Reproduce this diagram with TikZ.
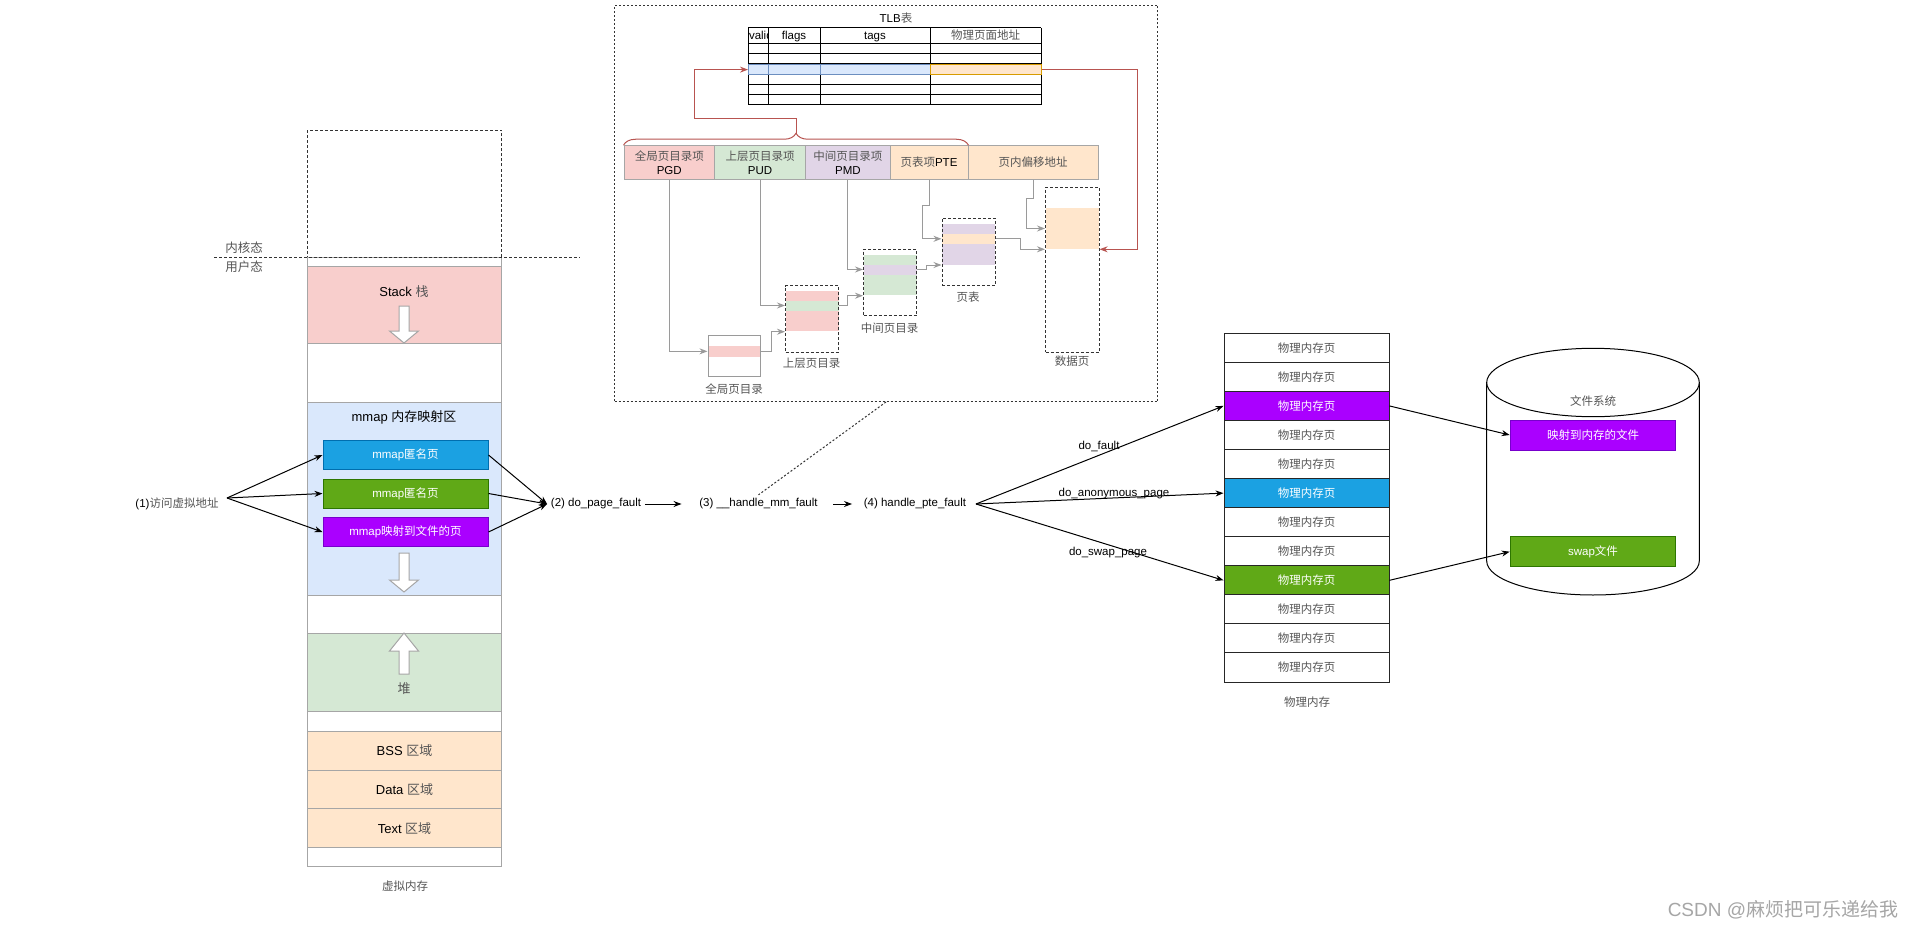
\documentclass[tikz,border=0pt]{standalone}
\usepackage{fontspec}
\usepackage{tikz}
\usetikzlibrary{arrows.meta, decorations.pathreplacing}
\setmainfont{Liberation Sans}
\newfontfamily\cjk{Noto Sans CJK SC}
\newcommand{\zh}[1]{{\cjk #1}}
\newcommand{\zhg}[1]{{\cjk\color{labelgray}#1}}

\definecolor{stackred}{HTML}{F8CECC}
\definecolor{mmapblue}{HTML}{DAE8FC}
\definecolor{heapgreen}{HTML}{D5E8D4}
\definecolor{segorange}{HTML}{FFE6CC}
\definecolor{pmdpurple}{HTML}{E1D5E7}
\definecolor{anonblue}{HTML}{1BA1E2}
\definecolor{anonblueline}{HTML}{006EAF}
\definecolor{anongreen}{HTML}{60A917}
\definecolor{anongreenline}{HTML}{2D7600}
\definecolor{filepurple}{HTML}{AA00FF}
\definecolor{filepurpleline}{HTML}{7700CC}
\definecolor{tlbblueline}{HTML}{6C8EBF}
\definecolor{tlborangeline}{HTML}{D79B00}
\definecolor{hitred}{HTML}{B85450}
\definecolor{segline}{HTML}{A6A6A6}
\definecolor{walkgray}{HTML}{9A9A9A}
\definecolor{labelgray}{HTML}{555555}

\newcommand{\hollowarrow}[4]{
	\draw[segline, fill = white] (#1 - 5, #2) -- (#1 + 5, #2) -- (#1 + 5, #3) -- (#1 + 14.5, #3) -- (#1, #4) -- (#1 - 14.5, #3) -- (#1 - 5, #3) -- cycle;
}

\tikzset{
	colfont/.style = {font = \fontsize{13}{15}\selectfont},
	seg/.style = {draw = segline, colfont, inner sep = 0pt, minimum width = 194pt, anchor = north west},
	mbox/.style = {draw = #1line, fill = #1, text = white, minimum width = 165pt, minimum height = 29pt, inner sep = 0pt},
	pagebox/.style = {draw = black!85, minimum width = 165pt, minimum height = 29.06pt, inner sep = 0pt},
	entry/.style = {draw = segline, minimum height = 33.3pt, inner sep = 0pt, align = center},
	broken/.style = {draw = black!80, dash pattern = on 3pt off 2pt},
	ptab/.style = {broken, inner sep = 0pt, anchor = north west},
	stripe/.style = {inner sep = 0pt, anchor = north west},
	walk/.style = {walkgray, ->},
	redline/.style = {hitred, ->}
}

\begin{document}
\begin{tikzpicture}[x = 1pt, y = -1pt, line width = 1pt, > = {Stealth[length = 8pt, width = 6pt]}, font = \fontsize{11.5}{14}\selectfont]
	\fill[white] (0, 0) rectangle (1915, 931);
	\useasboundingbox (0, 0) rectangle (1915, 931);

	\node[ptab, minimum width = 194pt, minimum height = 127pt] (kernel) at (307, 130) {};
	\node[seg, minimum height = 609pt] (user) at (307, 257) {};
	\node[seg, fill = stackred, minimum height = 77pt] (stack) at (307, 266) {};
	\node[seg, fill = mmapblue, minimum height = 193pt] (mmap) at (307, 402) {};
	\node[seg, fill = heapgreen, minimum height = 78pt] (heap) at (307, 633) {};
	\node[seg, fill = segorange, minimum height = 38.7pt] (bss) at (307, 731) {BSS \zhg{区域}};
	\node[seg, fill = segorange, minimum height = 38.7pt] (datasec) at (307, 769.7) {Data \zhg{区域}};
	\node[seg, fill = segorange, minimum height = 38.7pt] (textsec) at (307, 808.3) {Text \zhg{区域}};
	\draw[broken] (214, 257) -- (580, 257);
	\node[font = \fontsize{12.5}{14}\selectfont, text = labelgray] (kernlabel) at (244, 248) {\zh{内核态}};
	\node[font = \fontsize{12.5}{14}\selectfont, text = labelgray] (userlabel) at (244, 267) {\zh{用户态}};

	\node[colfont] (stacklabel) at (404, 292) {Stack \zhg{栈}};
	\hollowarrow{404}{306}{331}{343}
	\node[colfont] (mmaplabel) at (404, 417) {mmap \zh{内存映射区}};
	\node[mbox = anonblue] (anon1) at (405.5, 455) {mmap\zh{匿名页}};
	\node[mbox = anongreen] (anon2) at (405.5, 493.5) {mmap\zh{匿名页}};
	\node[mbox = filepurple] (filemap) at (405.5, 532) {mmap\zh{映射到文件的页}};
	\hollowarrow{404}{553}{580}{592}
	\hollowarrow{404}{674}{651}{633}
	\node[colfont] (heaplabel) at (404, 689) {\zhg{堆}};
	\node[text = labelgray] (vmlabel) at (405, 886) {\zh{虚拟内存}};

	\node (access) at (177, 504) {(1)\zhg{访问虚拟地址}};
	\coordinate (accfan) at (227, 498);
	\foreach \t in {anon1, anon2, filemap}
	\draw[->] (accfan) -- (\t.west);

	\node (dpf) at (596, 504) {(2) do\_page\_fault};
	\foreach \t in {anon1, anon2, filemap}
	\draw[->] (\t.east) -- (dpf.west);
	\node (hmf) at (758.5, 504) {(3) \_\_handle\_mm\_fault};
	\node (hpf) at (915, 504) {(4) handle\_pte\_fault};
	\draw[->, shorten >= 14pt] (dpf) -- (hmf);
	\draw[->, shorten <= 12pt, shorten >= 8pt] (hmf) -- (hpf);

	\foreach \i/\c/\tc in {1/white/labelgray, 2/white/labelgray, 3/filepurple/white, 4/white/labelgray, 5/white/labelgray, 6/anonblue/white, 7/white/labelgray, 8/white/labelgray, 9/anongreen/white, 10/white/labelgray, 11/white/labelgray, 12/white/labelgray}
	\node[pagebox, fill = \c, text = \tc] (pm\i) at (1306.5, {333.3 + 29.06 * \i - 14.53}) {\zh{物理内存页}};
	\node[text = labelgray] (pmlabel) at (1307, 702) {\zh{物理内存}};

	\coordinate (hpffan) at (976, 504);
	\draw[->] (hpffan) -- (pm3.west);
	\draw[->] (hpffan) -- (pm6.west);
	\draw[->] (hpffan) -- (pm9.west);
	\node (dofault) at (1099, 446) {do\_fault};
	\node (doanon) at (1114, 494) {do\_anonymous\_page};
	\node (doswap) at (1108, 553) {do\_swap\_page};

	\draw[fill = white] (1486.7, 382.5) -- (1486.7, 561) arc[start angle = 180, end angle = 360, x radius = 106.3pt, y radius = 34pt] -- (1699.3, 382.5);
	\draw[fill = white] (1593, 382.5) ellipse [x radius = 106.3pt, y radius = 34.2pt];
	\node[text = labelgray] (fslabel) at (1593, 401) {\zh{文件系统}};
	\node[mbox = filepurple, minimum width = 165.7pt, minimum height = 30pt] (mapfile) at (1593, 435) {\zh{映射到内存的文件}};
	\node[mbox = anongreen, minimum width = 165.7pt, minimum height = 30pt] (swapfile) at (1593, 551.7) {swap\zh{文件}};
	\draw[->] (pm3.east) -- (mapfile.west);
	\draw[->] (pm9.east) -- (swapfile.west);

	\node[ptab, dash pattern = on 2pt off 2pt, minimum width = 543pt, minimum height = 396pt] (tlbbox) at (614, 5) {};
	\draw[black!80, dash pattern = on 2pt off 2pt] (tlbbox.south) -- (hmf.north);

	\node (tlbtitle) at (896, 18) {TLB\zhg{表}};
	\foreach \x in {748, 768, 820, 930, 1041}
	\draw (\x, 28) -- (\x, 105);
	\foreach \y in {28, 43.5, 53.75, 64, 74.25, 84.5, 94.75, 105}
	\draw (748, \y) -- (1041, \y);
	\node[draw = tlbblueline, fill = mmapblue, minimum width = 182pt, minimum height = 10.25pt, inner sep = 0pt, anchor = north west] (tlbhit) at (748, 64) {};
	\node[draw = tlborangeline, fill = segorange, minimum width = 111pt, minimum height = 10.25pt, inner sep = 0pt, anchor = north west] (tlbpa) at (930, 64) {};
	\foreach \x in {768, 820}
	\draw[tlbblueline] (\x, 64) -- (\x, 74.25);
	\begin{scope}
		\clip (748, 28) rectangle (768, 43.5);
		\node[anchor = base west, inner sep = 0pt] (hvalid) at (748.5, 40) {valid};
	\end{scope}
	\node[anchor = base] (hflags) at (794, 40) {flags};
	\node[anchor = base] (htags) at (875, 40) {tags};
	\node[anchor = base, text = labelgray] (hpa) at (985.5, 40) {\zh{物理页面地址}};

	\node[entry, fill = stackred, minimum width = 90.5pt] (pgd) at (669.25, 162.4) {\zhg{全局页目录项}\\PGD};
	\node[entry, fill = heapgreen, minimum width = 91.2pt] (pud) at (760.1, 162.4) {\zhg{上层页目录项}\\PUD};
	\node[entry, fill = pmdpurple, minimum width = 84.3pt] (pmd) at (847.85, 162.4) {\zhg{中间页目录项}\\PMD};
	\node[entry, fill = segorange, minimum width = 78pt] (pte) at (929, 162.4) {\zhg{页表项}PTE};
	\node[entry, fill = segorange, minimum width = 130pt] (off) at (1033, 162.4) {\zhg{页内偏移地址}};

	\draw[hitred, decorate, decoration = {brace, amplitude = 12pt}] (pgd.north west) -- (pte.north east);
	\coordinate (bracetip) at (796, 134);
	\draw[redline] (bracetip) -- ++(0, -15) -| ([xshift = -54pt]tlbhit.west) -- (tlbhit.west);

	\node[stripe, fill = stackred, minimum width = 52.5pt, minimum height = 10.3pt] (gs) at (707.5, 345.7) {};
	\node[draw = walkgray, inner sep = 0pt, anchor = north west, minimum width = 52.5pt, minimum height = 41pt] (gtbl) at (707.5, 335) {};
	\node[text = labelgray] (gtlabel) at (734, 389) {\zh{全局页目录}};

	\node[stripe, fill = stackred, minimum width = 53pt, minimum height = 10pt] (u1) at (785, 290) {};
	\node[stripe, fill = heapgreen, minimum width = 53pt, minimum height = 10pt] (u2) at (785, 300) {};
	\node[stripe, fill = stackred, minimum width = 53pt, minimum height = 20.7pt] (u3) at (785, 310) {};
	\node[ptab, minimum width = 53pt, minimum height = 66.7pt] (utbl) at (785, 285) {};
	\node[text = labelgray] (utlabel) at (811.5, 363) {\zh{上层页目录}};

	\node[stripe, fill = heapgreen, minimum width = 53pt, minimum height = 10pt] (m1) at (863, 254) {};
	\node[stripe, fill = pmdpurple, minimum width = 53pt, minimum height = 10pt] (m2) at (863, 264) {};
	\node[stripe, fill = heapgreen, minimum width = 53pt, minimum height = 20.7pt] (m3) at (863, 274) {};
	\node[ptab, minimum width = 53pt, minimum height = 66.6pt] (mtbl) at (863, 248.7) {};
	\node[text = labelgray] (mtlabel) at (889.5, 328) {\zh{中间页目录}};

	\node[stripe, fill = pmdpurple, minimum width = 53.3pt, minimum height = 10pt] (p1) at (941.5, 223.3) {};
	\node[stripe, fill = segorange, minimum width = 53.3pt, minimum height = 10pt] (p2) at (941.5, 233.3) {};
	\node[stripe, fill = pmdpurple, minimum width = 53.3pt, minimum height = 20.7pt] (p3) at (941.5, 243.3) {};
	\node[ptab, minimum width = 53.3pt, minimum height = 67.3pt] (ptbl) at (941.5, 217.7) {};
	\node[text = labelgray] (ptlabel) at (968, 297) {\zh{页表}};

	\node[stripe, fill = segorange, minimum width = 53.6pt, minimum height = 40.6pt] (dpfill) at (1045, 207.7) {};
	\node[ptab, minimum width = 53.6pt, minimum height = 165pt] (dpage) at (1045, 186.7) {};
	\node[text = labelgray] (dplabel) at (1072, 361) {\zh{数据页}};

	\draw[walk] (pgd.south) |- (gs.west);
	\draw[walk] (gs.east) -- ++(10, 0) |- (u3.south west);
	\draw[walk] (pud.south) |- (u2.west);
	\draw[walk] (u2.east) -- ++(8, 0) |- (m3.south west);
	\draw[walk] (pmd.south) |- (m2.west);
	\draw[walk] (m2.east) -- ++(9, 0) |- (p3.south west);
	\draw[walk] (pte.south) -- ++(0, 26) -- ++(-7, 0) |- (p2.west);
	\draw[walk] (p2.east) -- ++(25, 0) |- (dpfill.south west);
	\draw[walk] (off.south) -- ++(0, 19) -- ++(-6.5, 0) |- (dpfill.west);

	\draw[redline] (tlbpa.east) -- ++(95, 0) |- (dpfill.south east);

	\node[anchor = east, font = \fontsize{19}{22}\selectfont, text = gray!70] (mark) at (1902, 910) {CSDN @\zh{麻烦把可乐递给我}};
\end{tikzpicture}
\end{document}
